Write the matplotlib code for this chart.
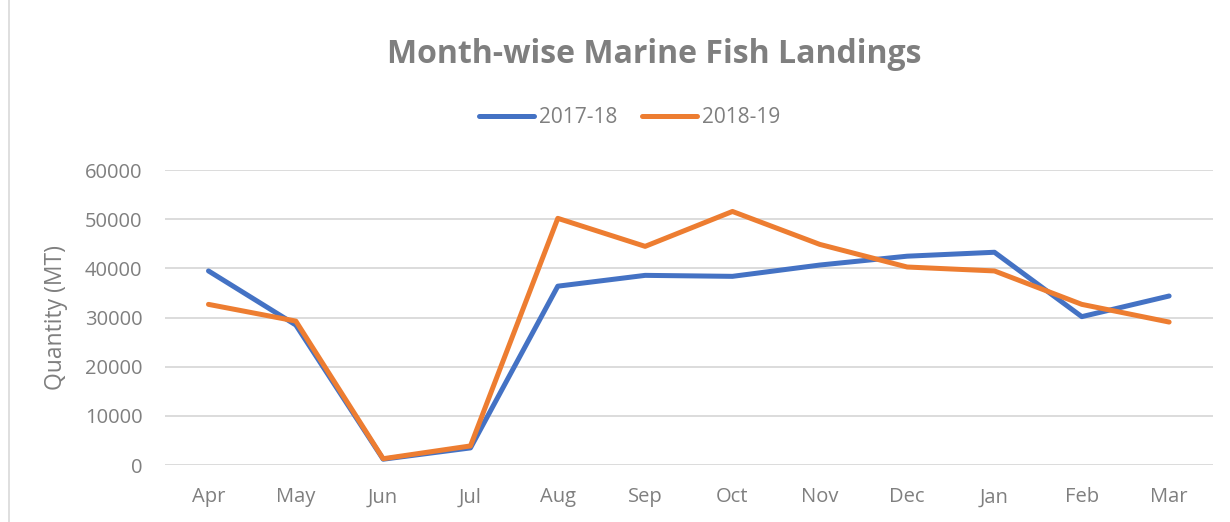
import numpy as np
import matplotlib.pyplot as plt
from matplotlib.patches import Rectangle

# data
months = ['Apr', 'May', 'Jun', 'Jul', 'Aug', 'Sep', 'Oct', 'Nov', 'Dec', 'Jan', 'Feb', 'Mar']
landings_2017_18 = [39500, 28500, 1200, 3500, 36400, 38600, 38400, 40700, 42500, 43300, 30200, 34400]
landings_2018_19 = [32700, 29300, 1300, 3900, 50200, 44500, 51600, 44900, 40300, 39500, 32700, 29100]
series_names = ['2017-18', '2018-19']

plt.rcParams['font.family'] = ['Open Sans', 'DejaVu Sans']
grey = '#7F7F7F'

fig = plt.figure(figsize=(12.3, 5.22), dpi=100)
ax = fig.add_axes([0.134, 0.109, 0.852, 0.565])

x = np.arange(len(months))
ax.plot(x, landings_2017_18, color='#4472C4', lw=3.6, label=series_names[0], solid_capstyle='round')
ax.plot(x, landings_2018_19, color='#ED7D31', lw=3.6, label=series_names[1], solid_capstyle='round')

ax.set_xlim(-0.5, len(months) - 0.5)
ax.set_ylim(0, 60000)
ax.set_yticks(np.arange(0, 60001, 10000))
ax.set_xticks(x)
ax.set_xticklabels(months)
ax.tick_params(colors=grey, labelsize=14.5, length=0)
ax.tick_params(axis='x', pad=16)
ax.tick_params(axis='y', pad=16)
ax.grid(axis='y', color='#D9D9D9', lw=1.3)
ax.set_axisbelow(True)
for s in ax.spines.values():
    s.set_visible(False)
ax.set_ylabel('Quantity (MT)', color=grey, fontsize=16.5, labelpad=12)

fig.text(0.532, 0.895, 'Month-wise Marine Fish Landings', ha='center', va='center',
         fontsize=23, fontweight='bold', color=grey)
fig.legend(loc='center', bbox_to_anchor=(0.512, 0.775), ncol=2, frameon=False,
           fontsize=15, labelcolor=grey, handlelength=2.65, columnspacing=1.15, handletextpad=0.25)

# chart frame (only the left edge shows)
fig.patches.append(Rectangle((0.007, -0.1), 1.1, 1.2, transform=fig.transFigure,
                             fill=False, edgecolor='#D9D9D9', lw=1.2))

fig.savefig('out.png', dpi=100)
